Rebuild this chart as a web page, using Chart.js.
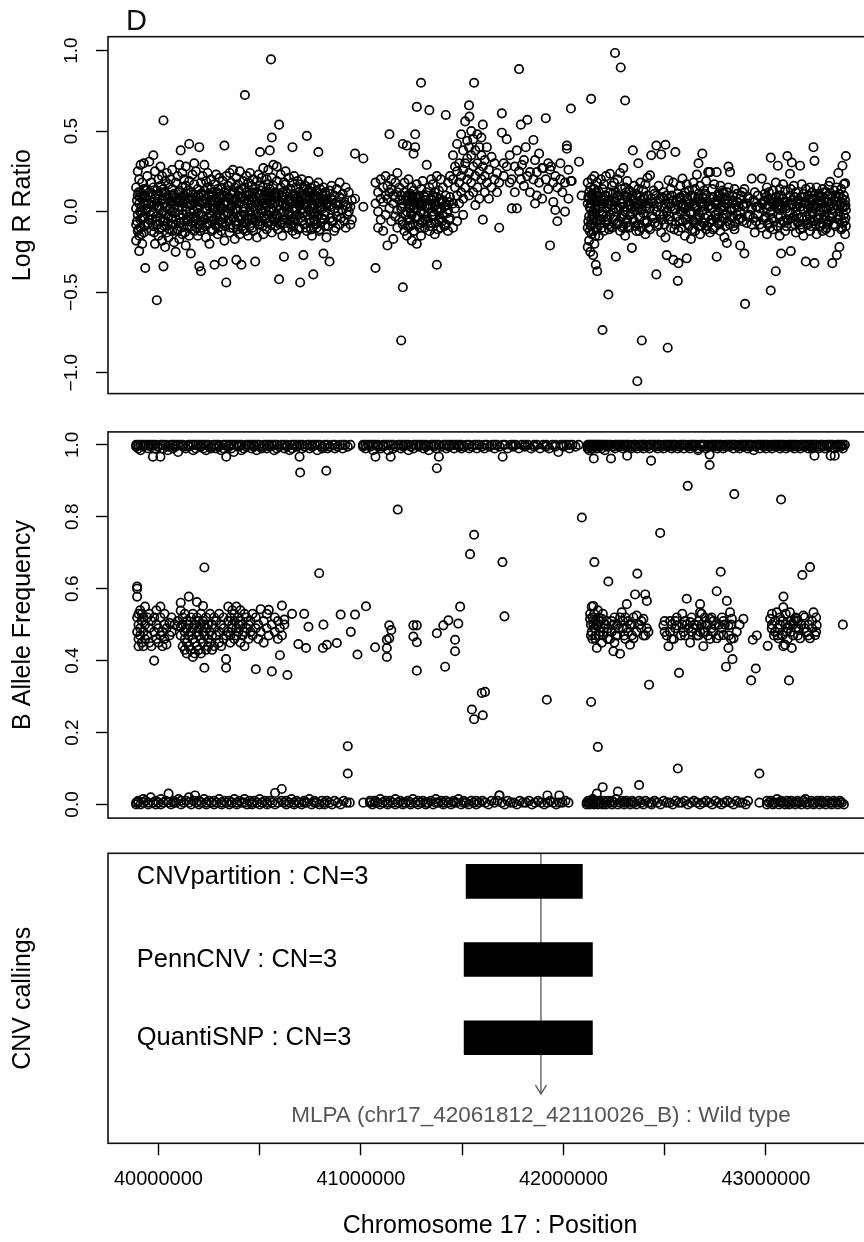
<!DOCTYPE html>
<html>
<head>
<meta charset="utf-8">
<script src="https://cdn.jsdelivr.net/npm/chart.js@4.4.1/dist/chart.umd.min.js"></script>
<style>
  html, body { margin: 0; padding: 0; background: #fff; overflow: hidden; }
  #page { position: relative; width: 864px; height: 1242px; overflow: hidden; background: #fff; }
  canvas { position: absolute; left: 0; }
</style>
</head>
<body>
<div id="page">
  <canvas id="lrrChart" width="880" height="410" style="top:0;width:880px;height:410px"></canvas>
  <canvas id="bafChart" width="880" height="430" style="top:410px;width:880px;height:430px"></canvas>
  <canvas id="cnvChart" width="880" height="402" style="top:840px;width:880px;height:402px"></canvas>
</div>
<script>
const FONT = "'Liberation Sans', Arial, Helvetica, sans-serif";

// shared position axis (chromosome 17, bp)
const posMin = 39751000;
const posMax = 43524000;
const posTicks = [40000000, 40500000, 41000000, 41500000, 42000000, 42500000, 43000000, 43500000];
const posLabelled = [40000000, 41000000, 42000000, 43000000];
const lrrTicks = [-1, -0.5, 0, 0.5, 1];
const bafTicks = [0, 0.2, 0.4, 0.6, 0.8, 1];

// Log R Ratio: [position (Mb), values...]
const lrrLeft = [
  [39.890, .02, -.08, .15, -.18], [39.898, .10, -.02, .25, -.12], [39.905, .05, -.15, .20, -.245],
  [39.912, -.05, .12, .29, -.10], [39.920, .08, -.20, .00, .18], [39.928, -.03, .14, .30, -.13],
  [39.935, .04, -.35, .10], [39.945, -.08, .22, .02], [39.955, .12, -.05, .31], [39.965, -.12, .06, .18],
  [39.975, .35, .00, -.09, .15], [39.983, -.20, .08, .25], [39.992, -.55, .03, .13, -.06],
  [40.000, .10, -.15, .20, .02], [40.010, -.04, .16, .28], [40.018, .07, -.10, .22, -.18],
  [40.025, -.34, .00, .14, .566], [40.033, .12, -.06, .19, -.22], [40.042, .03, .24, -.13],
  [40.050, .09, -.03, .17, -.16], [40.060, -.08, .20, .05], [40.068, .14, -.12, .26, .00],
  [40.077, .02, -.19, .11], [40.085, .18, -.05, .08, -.25], [40.095, .06, .22, -.11],
  [40.103, -.02, .13, .29, -.17], [40.110, .38, .07, -.07], [40.118, .15, -.14, .03, .24],
  [40.127, -.06, .10, .20], [40.135, .01, -.21, .16, .28], [40.143, .11, -.09, .05],
  [40.152, .42, .19, -.03, -.15], [40.160, .04, .12, -.26], [40.168, .23, -.07, .08],
  [40.177, .00, .17, -.12, .30], [40.185, .09, -.04, .25], [40.194, -.15, .14, .02],
  [40.202, .40, .06, -.08, -.34], [40.210, .18, -.02, .11, -.37], [40.218, .05, .22, -.10],
  [40.227, -.05, .13, .29], [40.235, .08, -.16, .19, .01], [40.243, .15, -.08, .24],
  [40.252, .03, .10, -.20], [40.260, -.03, .20, .07, .14], [40.268, .12, -.11, .02],
  [40.277, .06, .17, -.33, -.05], [40.285, -.09, .09, .23], [40.293, .14, .01, -.14],
  [40.302, .04, .21, -.06, .11], [40.310, -.12, .08, .15], [40.318, .02, .19, -.31, -.04],
  [40.326, .41, .10, -.18, .06], [40.335, .13, -.07, .22, -.44], [40.343, -.01, .16, .05],
  [40.352, .08, -.13, .24], [40.360, .18, .03, -.05], [40.368, -.10, .12, .00, .26],
  [40.377, .07, -.17, .15], [40.385, .02, .21, -.08, -.30], [40.393, .10, -.03, .17],
  [40.402, -.14, .06, .25], [40.410, .14, -.05, .09, -.33], [40.418, .00, .19, -.11],
  [40.427, .724, .08, -.02, .15], [40.435, -.07, .12, .22], [40.443, .05, -.15, .18],
  [40.452, .11, .00, -.09, .24], [40.460, -.04, .16, .07], [40.468, .09, -.12, .20, .03],
  [40.478, .01, .14, -.31, -.06], [40.487, .19, .06, -.16], [40.495, .04, .23, -.03],
  [40.502, .37, .11, -.08, .16], [40.510, .07, -.01, .21], [40.518, .15, -.14, .09, .27],
  [40.527, -.05, .12, .02], [40.535, .20, .05, -.11], [40.543, .08, .17, -.02, .26],
  [40.550, .38, .14, -.06], [40.556, .945, .10, .02], [40.560, .46, .21, -.13, .07],
  [40.568, .00, .16, .29], [40.577, .12, -.09, .05], [40.585, -.03, .19, .09, .28],
  [40.596, .54, -.42, .11, .01], [40.604, .15, -.07, .23], [40.612, .05, .12, -.15],
  [40.620, -.28, .09, .18, .00], [40.628, .17, -.04, .25], [40.637, .03, .11, -.10],
  [40.645, .21, .06, -.02], [40.653, -.08, .14, .08], [40.662, .40, .02, .18, -.12],
  [40.670, .10, -.05, .22], [40.678, .05, .15, -.14, .01], [40.687, -.02, .09, .19],
  [40.695, .12, -.10, .04], [40.700, -.44, .17, .07], [40.708, .02, .11, -.06, .20],
  [40.716, -.27, .14, .05], [40.725, .08, -.03, .16], [40.733, .47, .03, -.12, .10],
  [40.742, .13, .01, .19], [40.750, -.07, .09, .15], [40.758, .04, -.15, .12],
  [40.765, -.39, .10, .02], [40.773, .16, -.05, .07], [40.782, .01, .13, -.10],
  [40.790, .37, .08, -.02, .18], [40.798, -.11, .06, .14], [40.806, .11, -.04, .03],
  [40.815, -.26, .07, .15], [40.823, .00, .12, -.09], [40.830, .05, -.16, .10],
  [40.845, -.31, .04, .13], [40.855, .08, -.06, .16], [40.868, .02, .10, -.12],
  [40.880, .14, -.03, .06], [40.895, -.08, .09, .18], [40.910, .11, .01],
  [40.925, .04, -.10, .15], [40.940, .12, .00], [40.955, .07, -.05], [40.971, .36, .08],
  [41.012, .33, .03]
];
const lrrLeftCore = [
  [39.894, -.06, .07], [39.902, .12, -.11], [39.909, .00, .09], [39.916, -.14, .03], [39.924, .10, -.04],
  [39.931, .06, -.09], [39.940, .01, .13], [39.950, -.07, .05], [39.960, .09, -.02], [39.970, -.05, .11],
  [39.979, .04, -.13], [39.988, .10, -.03], [39.996, -.08, .06], [40.005, .03, -.11], [40.014, .12, -.01],
  [40.022, -.06, .08], [40.029, .05, -.09], [40.038, -.02, .11], [40.046, .08, -.07], [40.055, -.11, .02],
  [40.064, .06, -.04], [40.072, -.08, .10], [40.081, .04, -.01], [40.090, -.12, .07], [40.099, .01, .12],
  [40.107, -.04, .06], [40.114, .09, -.10], [40.122, -.02, .05], [40.131, .07, -.13], [40.139, -.05, .03],
  [40.147, .13, -.06], [40.156, .00, .08], [40.164, -.09, .05], [40.172, .11, -.03], [40.181, -.06, .06],
  [40.189, .03, -.10], [40.198, .10, -.01], [40.206, -.12, .04], [40.214, .07, -.06], [40.222, -.03, .10],
  [40.231, .05, -.09], [40.239, -.07, .02], [40.247, .11, -.04], [40.256, -.01, .07], [40.264, .09, -.12],
  [40.272, -.05, .04], [40.281, .02, -.08], [40.289, .12, -.02], [40.297, -.10, .06], [40.306, .03, -.03],
  [40.314, .10, -.07], [40.322, -.02, .05], [40.330, -.09, .12], [40.339, .06, -.01], [40.347, -.06, .09],
  [40.356, .02, -.10], [40.364, .11, .04], [40.372, -.04, .07], [40.381, .08, -.06], [40.389, -.11, .01],
  [40.397, .05, .13], [40.406, -.03, .08], [40.414, .09, -.09], [40.422, -.07, .03], [40.431, .02, -.12],
  [40.439, .10, -.04], [40.447, -.05, .07], [40.456, .04, -.02], [40.464, -.10, .12], [40.473, .07, -.05],
  [40.482, -.02, .09], [40.491, .11, -.08], [40.499, -.06, .03], [40.506, .01, .13], [40.514, -.09, .05],
  [40.522, .08, -.03], [40.531, -.04, .10], [40.539, .12, -.07], [40.547, .00, .06], [40.555, -.08, .11],
  [40.564, .05, -.04], [40.572, -.06, .09], [40.581, .10, -.02], [40.590, -.11, .04], [40.600, .06, -.08],
  [40.608, -.01, .10], [40.616, .09, -.05], [40.624, -.07, .03], [40.632, .04, .12], [40.641, -.10, .00],
  [40.649, .07, -.06], [40.657, -.03, .05], [40.666, .11, -.09], [40.674, -.05, .08], [40.683, .02, -.03],
  [40.691, .08, -.11], [40.704, -.04, .06], [40.712, .10, -.01], [40.720, -.08, .04], [40.729, .05, -.10],
  [40.737, -.02, .12], [40.746, .07, -.05], [40.754, -.11, .02], [40.762, .04, .09], [40.769, -.06, -.01],
  [40.778, .09, -.08], [40.786, -.03, .05], [40.794, .06, -.12], [40.802, -.07, .03], [40.811, .02, .10],
  [40.819, -.05, -.02], [40.827, .08, .04], [40.838, -.09, .06], [40.850, .03, -.04], [40.862, -.06, .07],
  [40.875, .05, -.10], [40.888, .00, .04], [40.902, -.04, .08], [40.918, .06, -.06], [40.933, -.02, .03],
  [40.948, .03, -.08]
];
const lrrMid = [
  [41.072, -.35, .05, .18], [41.085, .00, .12, -.10], [41.098, .20, -.05, .08], [41.110, .06, .15, -.12],
  [41.122, -.02, .22, .10], [41.131, -.21, .08, .16], [41.141, .48, .02, .12], [41.150, .14, -.06, .20],
  [41.160, -.17, .05, .10], [41.170, .09, .18, -.03], [41.180, .01, .12, -.10, .24], [41.190, .15, -.05, .07],
  [41.199, -.80, .10, .02], [41.207, -.47, .42, .05, -.08], [41.215, .12, -.12, .18],
  [41.227, .41, .00, .09, -.15], [41.235, .07, .20, -.05], [41.243, -.09, .11, .02],
  [41.251, .15, -.02, .08, -.18], [41.260, .36, .04, -.12, .13], [41.268, .48, .40, .09, -.04],
  [41.276, .65, -.20, .02, .17], [41.285, .10, -.08, .05], [41.297, .80, .14, -.15, .00],
  [41.305, .06, .19, -.06], [41.315, -.10, .09, .03], [41.325, .29, .12, -.03],
  [41.338, .63, .02, .15, -.12], [41.347, .08, -.07, .20], [41.355, .17, .00, .10],
  [41.365, .04, -.14, .12], [41.375, -.33, .09, .22, .01], [41.385, .13, -.05, .06],
  [41.395, .20, .02, -.10], [41.405, .07, .15, -.02], [41.419, .60, .10, -.08, .04],
  [41.430, .18, .01, -.12], [41.440, .09, .22, -.04],
  [41.205, .03, -.06], [41.220, -.02, .07], [41.231, .10, -.09], [41.239, -.05, .04], [41.247, .06, -.01],
  [41.256, -.08, .09], [41.264, .02, -.12], [41.272, -.04, .06], [41.281, .08, -.03], [41.290, -.10, .04],
  [41.300, .05, -.07], [41.310, -.01, .10], [41.320, .07, -.05], [41.330, -.06, .02], [41.342, .04, -.09],
  [41.351, -.03, .07], [41.360, .09, -.02], [41.370, -.07, .04], [41.380, .02, -.11], [41.390, -.04, .08],
  [41.400, .06, -.06], [41.412, -.09, .03], [41.425, .04, -.01], [41.435, -.05, .06]
];
const lrrGain = [
  [41.455, .05, .20, -.10, .35], [41.465, .15, .28, .02], [41.475, .42, .10, -.06, .25],
  [41.485, .30, .18, .05], [41.495, .48, .12, .22], [41.505, .38, .26, .08, -.02],
  [41.515, .56, .30, .15], [41.525, .44, .20, .33], [41.534, .66, .40, .24, .10], [41.536, .59],
  [41.545, .35, .18, .50], [41.555, .45, .28, .12], [41.559, .80], [41.565, .38, .22, .04],
  [41.575, .30, .48, .15], [41.585, .25, .40, .08], [41.595, .35, .20, .46], [41.602, .54, -.05, .28],
  [41.612, .32, .12, .22], [41.622, .40, .18], [41.632, .26, .08], [41.645, .34, .15],
  [41.660, .20, .30], [41.672, .12, .24], [41.683, -.10, .18], [41.696, .61, .49],
  [41.705, .22, .30], [41.720, .45, .28], [41.735, .18, .35], [41.745, .02, .20],
  [41.760, .28, .12], [41.770, .02, .38], [41.781, .885, .25], [41.790, .54, .20], [41.795, .29],
  [41.805, .16, .32], [41.814, .40], [41.822, .57, .22], [41.835, .245, .12], [41.852, .445, .20],
  [41.860, .05, .32], [41.869, .10, .245], [41.880, .18, .36], [41.895, .27, .08], [41.901, .27],
  [41.913, .58, .20], [41.925, .14, .30], [41.934, -.21, .26], [41.939, .28], [41.950, .18, .06],
  [41.960, .01, .22], [41.970, -.06, .15], [41.985, .20, .30], [41.995, .12], [42.008, .00, .18],
  [42.017, .41, .39], [42.025, .26, .08], [42.037, .64, .19], [42.041, .19], [42.077, .31], [42.090, .10]
];
const lrrRight = [
  [42.120, .05, -.10, .18, -.22], [42.127, -.03, .12, -.18, .08], [42.133, .15, -.25, .02, -.08],
  [42.137, .70], [42.140, -.05, .20, -.14, .10], [42.147, .08, -.27, .00, -.12],
  [42.153, -.02, .14, -.20, .22], [42.160, .10, -.06, -.33, .04], [42.167, -.10, .06, .18, -.37],
  [42.175, .02, -.15, .12], [42.185, .09, -.05, .20], [42.193, -.735, .00, .14], [42.200, .07, -.12, .17],
  [42.210, -.03, .10, .22], [42.222, -.515, .05, -.08], [42.230, .235, .12, -.02], [42.240, .04, -.10, .16],
  [42.250, .08, .18, -.05], [42.255, .985], [42.259, -.28, .02, .12], [42.268, .10, -.07, .20],
  [42.280, .24, .03, -.12], [42.283, .895], [42.288, .14, -.03], [42.296, .27, .06, -.09],
  [42.305, .69, .00, .15, -.15], [42.315, .09, -.05, .19], [42.325, -.10, .04, .13],
  [42.338, -.225, .10, .02], [42.343, .38, .07], [42.350, -.06, .16, .01], [42.360, .11, -.12, .05],
  [42.365, -1.053], [42.370, .30, .02, .14, -.08], [42.380, -.03, .09, .18], [42.387, -.80, .05, -.10],
  [42.395, .13, -.01, .08], [42.405, .03, .17, -.14], [42.415, .10, -.06, .21], [42.428, .225, .02, -.11],
  [42.434, .35, .08], [42.445, -.04, .13, .05], [42.459, .41, -.39, .00, .10], [42.470, .16, -.08, .06],
  [42.483, .355, .03, -.13], [42.495, .12, -.02, .08], [42.504, .415, .05, -.16], [42.510, -.27, .10, .00],
  [42.515, -.845], [42.519, .195, -.05, .08], [42.530, .14, -.10, .03], [42.543, -.30, .07, .18],
  [42.553, .37, .01, -.08], [42.565, -.43, .11, .04], [42.568, -.32, -.12], [42.578, .09, .00, .16],
  [42.588, .205, -.06, .05], [42.600, .12, -.15, .02], [42.609, -.29, .08, .17], [42.620, .03, -.09, .13],
  [42.630, .10, .00, -.17], [42.642, .18, .05, -.06], [42.650, -.12, .09, .14], [42.659, .23, .02, -.04],
  [42.667, .30, .11, -.09], [42.675, .06, -.14, .16], [42.686, .36, .01, .09], [42.695, -.07, .13, .04],
  [42.705, .10, -.11, .19], [42.715, .245, .03, -.03], [42.724, .245, .08, -.13], [42.735, .14, -.05, .02],
  [42.745, .06, .17, -.10], [42.757, .245, -.28, .04], [42.765, .11, -.07, .00], [42.775, .16, .02, -.12],
  [42.785, -.04, .09, .13], [42.795, .07, -.16, .03], [42.807, -.195, .12, -.02], [42.815, .28, .05, .15],
  [42.823, .245, -.08, .01], [42.835, .10, -.04, .07], [42.845, .02, .14, -.11], [42.858, .06, -.02, .11],
  [42.873, -.21, .08, .00], [42.885, .12, -.06, .04], [42.894, -.26, .03, .14], [42.897, -.573],
  [42.910, .09, -.03], [42.930, .205, .02, -.08], [42.945, .06, .12, -.13], [42.960, -.02, .10, .03],
  [42.980, .205, .05, -.10], [42.995, .11, -.04, .07], [43.005, .02, .15, -.14], [43.015, .08, -.07, .12],
  [43.024, .335, -.49, .00], [43.035, .13, -.11, .05], [43.049, -.37, .09, .18], [43.059, .285, -.02, .06],
  [43.068, .14, -.15, .01], [43.075, -.26, .10, .04], [43.085, -.06, .17, .08], [43.095, .03, -.12, .13],
  [43.106, .345, .06, -.05], [43.119, .235, -.01, .10], [43.123, -.245, .14], [43.128, .305, .04, -.09],
  [43.138, .09, -.03, .16], [43.148, .00, .12, -.13], [43.158, .07, -.07, .05], [43.169, .285, .03, -.11],
  [43.177, .17, -.04, .09], [43.185, .01, .11, -.15], [43.197, -.31, .06, .14], [43.208, .10, -.08, .02],
  [43.218, -.02, .15, -.12], [43.228, .08, .00, .12], [43.235, .40, -.06, .04], [43.240, .315, -.32, .10],
  [43.250, .03, -.14, .15], [43.260, .11, -.05, .07], [43.270, -.09, .09, .01], [43.280, .05, .14, -.12],
  [43.290, .12, -.03, .08], [43.300, .12, -.10, .02], [43.310, .06, .16, -.06], [43.317, .185, -.13, .03],
  [43.328, -.32, .10, -.01], [43.338, .07, -.08, .13], [43.350, -.27, .04, .15], [43.358, .24, -.05, .09],
  [43.363, -.22, .11, .00], [43.372, .06, -.11, .14], [43.378, .285, .03, -.07], [43.385, .10, -.02, .17],
  [43.391, -.14, .175, .07], [43.395, .345, .01, -.09]
];
const lrrRightCore = [
  [42.123, -.06, .09], [42.130, .03, -.12], [42.137, -.09, .05], [42.143, .11, -.02], [42.150, -.04, .07],
  [42.157, .02, -.15], [42.163, -.11, .12], [42.170, .06, -.05], [42.180, -.08, .03], [42.190, .04, -.10],
  [42.197, -.02, .08], [42.205, .10, -.06], [42.215, -.05, .02], [42.225, .07, -.11], [42.235, -.09, .04],
  [42.245, .01, .11], [42.255, -.03, .06], [42.264, .09, -.08], [42.274, -.06, .01], [42.284, .05, -.04],
  [42.292, -.10, .08], [42.300, .03, -.02], [42.310, -.07, .12], [42.320, .06, -.09], [42.330, -.02, .04],
  [42.345, .08, -.05], [42.355, -.09, .03], [42.365, .04, .10], [42.375, -.04, -.12], [42.385, .07, .01],
  [42.400, -.06, .09], [42.410, .02, -.07], [42.420, -.10, .05], [42.438, .06, -.03], [42.450, -.07, .11],
  [42.464, .03, -.09], [42.476, -.02, .08], [42.489, .09, -.05], [42.500, -.08, .02], [42.525, .05, -.03],
  [42.536, -.06, .10], [42.548, .02, -.11], [42.560, -.03, .07], [42.573, .08, -.06], [42.583, -.10, .03],
  [42.594, .04, .10], [42.604, -.05, -.02], [42.614, .07, -.08], [42.625, -.01, .05], [42.636, .09, -.11],
  [42.646, -.07, .03], [42.655, .04, -.05], [42.663, -.03, .08], [42.671, .08, -.02], [42.681, -.09, .05],
  [42.690, .03, -.07], [42.700, -.04, .11], [42.710, .06, -.09], [42.720, -.07, .04], [42.730, .02, -.05],
  [42.740, -.11, .09], [42.750, .05, -.02], [42.761, -.04, .07], [42.770, .10, -.08], [42.780, -.06, .03],
  [42.790, .01, .12], [42.800, -.09, .05], [42.811, .07, -.06], [42.828, -.03, .02], [42.840, .06, -.09],
  [42.851, -.07, .04], [42.865, .03, -.05], [42.878, -.04, .10], [42.905, .05, -.07], [42.920, -.02, .08],
  [42.938, .07, -.04], [42.952, -.06, .03], [42.970, .02, -.08], [42.988, -.05, .06], [43.000, .09, -.03],
  [43.010, -.08, .04], [43.020, .03, -.10], [43.030, -.04, .08], [43.042, .06, -.06], [43.055, -.09, .02],
  [43.064, .04, .10], [43.072, -.03, -.07], [43.080, .08, .03], [43.090, -.06, .06], [43.100, .02, -.09],
  [43.112, -.05, .04], [43.133, .07, -.04], [43.143, -.08, .09], [43.153, .03, -.02], [43.163, -.04, .07],
  [43.173, .06, -.08], [43.181, -.10, .02], [43.191, .05, .09], [43.202, -.03, -.05], [43.213, .08, .04],
  [43.223, -.06, -.09], [43.232, .02, .07], [43.245, -.08, .03], [43.255, .05, -.04], [43.265, -.02, .10],
  [43.275, .09, -.07], [43.285, -.05, .01], [43.295, .03, -.11], [43.305, -.07, .06], [43.314, .10, -.03],
  [43.322, -.04, .05], [43.333, .02, -.08], [43.344, -.09, .09], [43.354, .06, -.02], [43.367, -.03, .04],
  [43.376, .08, -.10], [43.388, -.06, .03], [43.393, .04, -.04]
];

// B Allele Frequency: [position (Mb), values...]
const bafHomB = [
  [39.890, 1, .995], [39.900, .99, 1], [39.912, 1, .985], [39.925, .995, 1], [39.937, 1], [39.950, .99, 1],
  [39.962, 1, .995], [39.973, .967, 1], [39.985, 1, .99], [39.998, .995], [40.010, 1, .967], [40.022, .99, 1],
  [40.035, 1], [40.047, .995, .985], [40.060, 1], [40.072, .99, 1], [40.085, 1, .995], [40.097, .98, 1],
  [40.110, 1], [40.122, .995, 1], [40.135, .99], [40.148, 1, .995], [40.160, 1], [40.172, .985, 1],
  [40.185, .99, 1], [40.197, 1], [40.210, .995, 1], [40.222, 1, .99], [40.235, .985, 1], [40.247, 1],
  [40.260, .995, .99], [40.272, 1], [40.285, .99, 1], [40.298, 1, .995], [40.310, .985], [40.322, 1, .99],
  [40.335, .967, 1], [40.348, .995, 1], [40.360, 1, .99], [40.372, .98, 1], [40.385, 1], [40.397, .995, 1],
  [40.410, 1, .985], [40.422, .99], [40.435, 1, .995], [40.447, 1], [40.460, .99, 1], [40.472, 1, .995],
  [40.485, .985, 1], [40.497, 1], [40.510, .995, .99], [40.522, 1], [40.535, .99, 1], [40.548, 1, .995],
  [40.560, 1], [40.572, .985, 1], [40.585, 1, .99], [40.597, .995], [40.610, 1], [40.622, .99, 1],
  [40.635, 1, .995], [40.648, .985], [40.660, 1, .99], [40.672, 1], [40.685, .995, 1], [40.697, .967, 1],
  [40.700, .923], [40.710, 1, .99], [40.722, .995], [40.735, 1], [40.747, .99, 1], [40.760, 1, .995],
  [40.772, 1], [40.785, .985, 1], [40.797, 1], [40.810, .99, .995], [40.822, 1], [40.829, .928],
  [40.835, 1, .99], [40.847, .995], [40.860, 1], [40.872, 1, .99], [40.885, .995], [40.897, 1],
  [40.910, .99, 1], [40.922, 1], [40.935, .995], [40.948, 1],
  [41.010, 1, .995], [41.022, .99, 1], [41.035, 1], [41.047, .995, 1], [41.060, 1, .985], [41.072, .967, 1],
  [41.085, 1, .995], [41.097, .99], [41.110, 1, .995], [41.122, 1], [41.135, .985, 1], [41.147, .967, 1],
  [41.160, 1, .99], [41.172, .995], [41.185, 1], [41.197, .99, 1], [41.210, 1, .995], [41.222, 1],
  [41.235, .985, 1], [41.247, .995], [41.260, 1, .99], [41.272, 1], [41.285, .995, 1], [41.297, 1],
  [41.310, .99, 1], [41.322, 1, .995], [41.335, .985], [41.347, 1], [41.360, .995, 1], [41.372, 1, .99],
  [41.375, .935], [41.385, .967, 1], [41.397, .995], [41.410, 1], [41.422, .99, 1], [41.435, 1, .995],
  [41.447, 1], [41.460, .99, 1], [41.472, 1], [41.485, .995, 1], [41.497, 1, .99], [41.510, .995],
  [41.522, 1], [41.535, 1, .99], [41.547, .995], [41.560, 1], [41.572, .99, 1], [41.585, 1], [41.597, .995],
  [41.610, 1, .99], [41.622, 1], [41.635, .995], [41.648, 1], [41.660, .99, 1], [41.672, 1], [41.685, .995],
  [41.700, 1, .967], [41.712, 1], [41.725, .99], [41.740, 1], [41.752, .995, 1], [41.765, 1], [41.780, .99],
  [41.795, 1], [41.810, .995, 1], [41.825, 1], [41.840, .99], [41.855, 1, .995], [41.870, 1], [41.885, .99],
  [41.900, 1], [41.915, 1, .995], [41.930, .99], [41.945, 1], [41.960, .995, 1], [41.975, .98], [41.988, 1],
  [42.000, .995, 1], [42.015, 1], [42.030, .99, 1], [42.045, 1], [42.060, .995], [42.075, 1],
  [42.120, 1, .995, .99], [42.128, 1, .985], [42.135, .995, 1], [42.143, 1, .99], [42.150, .962, 1],
  [42.158, 1, .995], [42.165, .99, 1], [42.173, 1], [42.180, .995, 1], [42.188, 1, .99], [42.196, 1],
  [42.205, .985, 1], [42.215, 1, .995], [42.225, 1], [42.235, .962, 1], [42.245, .995], [42.255, 1, .99],
  [42.265, 1], [42.275, .995, 1], [42.285, 1], [42.295, .99, 1], [42.305, 1, .995], [42.315, .97, 1],
  [42.325, 1], [42.335, .995, .99], [42.345, 1], [42.355, 1, .995], [42.365, .99], [42.375, 1],
  [42.385, .995, 1], [42.395, 1, .99], [42.405, 1], [42.415, .995], [42.425, 1, .99], [42.433, .956, 1],
  [42.445, 1], [42.455, .995, 1], [42.465, 1, .99], [42.475, 1], [42.485, .995], [42.495, 1, .99],
  [42.505, 1], [42.515, .995, 1], [42.525, 1], [42.535, .99, 1], [42.545, 1, .995], [42.555, 1],
  [42.565, .99], [42.575, 1, .995], [42.585, 1], [42.595, .99, 1], [42.605, 1], [42.615, .995],
  [42.625, 1, .99], [42.635, 1], [42.645, .995, 1], [42.655, 1], [42.665, .99, .985], [42.675, 1],
  [42.685, .995, 1], [42.695, 1], [42.705, .99], [42.715, 1, .995], [42.722, .944, .973], [42.730, 1],
  [42.740, .995, 1], [42.750, 1], [42.760, .99, 1], [42.770, 1, .995], [42.780, 1], [42.790, .99],
  [42.800, 1, .995], [42.810, 1], [42.820, .995, 1], [42.830, 1], [42.840, .99, 1], [42.850, 1],
  [42.860, .995], [42.870, 1, .99], [42.880, 1], [42.890, .995, 1], [42.900, 1], [42.910, .99, 1],
  [42.920, 1, .995], [42.930, 1], [42.940, .985], [42.950, 1, .995], [42.960, 1], [42.970, .99, 1],
  [42.980, 1], [42.990, .995, 1], [43.000, 1, .99], [43.010, 1], [43.020, .995], [43.030, 1, .99],
  [43.040, 1], [43.050, .995, 1], [43.060, 1], [43.070, .99, 1], [43.080, 1, .995], [43.090, 1],
  [43.100, .99], [43.110, 1, .995], [43.120, 1], [43.130, .995, 1], [43.140, 1, .99], [43.150, 1],
  [43.160, .995], [43.170, 1, .99], [43.180, 1], [43.190, .995, 1], [43.200, 1], [43.210, .99, 1],
  [43.220, 1, .995], [43.230, 1, .99], [43.240, .97, 1], [43.250, 1], [43.260, .995, .99], [43.270, 1],
  [43.280, 1, .995], [43.290, .99], [43.300, 1], [43.310, .995, 1], [43.320, 1, .97], [43.330, 1],
  [43.340, .99, .97], [43.350, 1, .995], [43.360, 1], [43.370, .995, 1], [43.380, 1, .99], [43.390, 1]
];
const bafHomA = [
  [39.890, .005, 0], [39.900, .01, .005], [39.912, 0], [39.925, .005, .015], [39.937, .01], [39.950, 0, .005],
  [39.962, .02], [39.975, .005], [39.987, .01, 0], [40.000, .005], [40.012, .015, 0], [40.025, .005],
  [40.037, .01], [40.050, .03, .005], [40.062, 0], [40.075, .01, .005], [40.087, .005], [40.100, .015],
  [40.112, 0, .01], [40.125, .005], [40.137, .01], [40.150, .005, .02], [40.162, 0], [40.175, .01],
  [40.181, .025], [40.187, .005], [40.200, .01, 0], [40.212, .005], [40.225, .015], [40.237, 0, .005],
  [40.250, .01], [40.262, .005], [40.275, 0, .01], [40.287, .005], [40.300, .015], [40.312, .005, 0],
  [40.325, .01], [40.337, .005], [40.350, 0, .01], [40.362, .005], [40.375, .015], [40.387, 0, .005],
  [40.400, .01], [40.412, .005], [40.425, .005, .015], [40.437, 0], [40.450, .01], [40.462, .005, 0],
  [40.475, .01], [40.487, .005], [40.500, .015, 0], [40.512, .005], [40.525, .01], [40.537, 0, .005],
  [40.550, .01], [40.562, .005], [40.576, .032, 0], [40.590, .005], [40.609, .043, .01], [40.620, .005],
  [40.632, 0, .01], [40.645, .005], [40.657, .015], [40.670, 0, .005], [40.682, .01], [40.695, .005],
  [40.707, 0], [40.720, .01, .005], [40.732, .005], [40.745, .015], [40.757, 0], [40.770, .005, .01],
  [40.782, .005], [40.795, 0], [40.807, .01], [40.820, .005, 0], [40.832, .01], [40.845, .005],
  [40.857, 0], [40.870, .01], [40.885, .005], [40.900, 0], [40.915, .01], [40.930, .005], [40.945, .005],
  [41.012, .005], [41.045, .005, .01], [41.057, 0], [41.070, .01, .005], [41.082, .005], [41.095, 0, .015],
  [41.107, .005], [41.120, .01], [41.132, 0, .005], [41.145, .01], [41.157, .005], [41.170, .015, 0],
  [41.182, .005], [41.195, .01], [41.207, 0, .005], [41.220, .005], [41.232, .01], [41.245, .005, 0],
  [41.257, .015], [41.270, .005], [41.282, 0, .01], [41.295, .005], [41.307, .01], [41.320, .005, 0],
  [41.332, .005], [41.345, .01], [41.357, 0], [41.370, .005, .015], [41.382, .005], [41.395, .01],
  [41.407, 0, .005], [41.420, .01], [41.432, .005], [41.445, 0], [41.457, .01, .005], [41.470, .005],
  [41.482, .015], [41.495, 0], [41.507, .005, .01], [41.520, .005], [41.532, 0], [41.545, .01],
  [41.557, .005], [41.570, 0, .01], [41.585, .005], [41.600, .01], [41.615, .005], [41.630, 0],
  [41.645, .01], [41.660, .005], [41.675, .01], [41.684, .025], [41.695, .005], [41.710, 0], [41.725, .01],
  [41.740, .005], [41.755, .005], [41.770, 0], [41.785, .01], [41.800, .005], [41.815, .005], [41.830, .01],
  [41.845, 0], [41.860, .005], [41.875, .01], [41.890, .005], [41.905, 0], [41.921, .025, .005],
  [41.935, .01], [41.950, .005], [41.965, 0], [41.980, .025, .005], [41.995, .005], [42.010, .01], [42.025, .005],
  [42.115, .005, 0], [42.122, .01, .005], [42.130, 0, .005], [42.137, .01], [42.145, .005, .015], [42.152, 0],
  [42.160, .005, .01], [42.165, .03], [42.170, 0], [42.178, .01, .005], [42.185, .005], [42.194, .048, 0],
  [42.200, .01], [42.210, .005, 0], [42.220, .01], [42.230, .005], [42.240, 0, .01], [42.250, .005],
  [42.260, .015], [42.269, .036, 0], [42.280, .005], [42.290, .01], [42.300, 0, .005], [42.310, .01],
  [42.320, .005], [42.330, 0], [42.340, .01, .005], [42.350, .005], [42.360, 0], [42.374, .054, .01],
  [42.385, .005], [42.395, 0], [42.405, .01], [42.420, .005], [42.435, .005, 0], [42.450, .01],
  [42.465, .005], [42.480, 0], [42.495, .01], [42.510, .005], [42.525, .005], [42.540, 0], [42.555, .01],
  [42.570, .005], [42.585, .005], [42.600, .01], [42.615, 0], [42.630, .005], [42.645, .01], [42.660, .005],
  [42.675, 0], [42.690, .005], [42.705, .01], [42.720, .005], [42.735, 0], [42.750, .01], [42.765, .005],
  [42.780, 0], [42.795, .005], [42.810, .01], [42.825, .005], [42.840, 0], [42.855, .01], [42.870, .005],
  [42.885, .005], [42.900, 0], [42.912, .01], [42.968, .005],
  [43.005, .01, 0], [43.015, .005], [43.025, .01], [43.035, 0, .005], [43.045, .005], [43.055, .015],
  [43.065, 0], [43.075, .005, .01], [43.085, .005], [43.095, 0], [43.105, .01], [43.115, .005, 0],
  [43.125, .01], [43.135, .005], [43.145, 0], [43.155, .01, .005], [43.165, .005], [43.175, 0],
  [43.185, .01], [43.195, .005, .015], [43.205, 0], [43.215, .005], [43.225, .01], [43.235, .005, 0],
  [43.245, .005], [43.255, .01], [43.265, 0], [43.275, .005, .01], [43.285, .005], [43.295, 0],
  [43.305, .01], [43.315, .005], [43.325, .005, 0], [43.335, .01], [43.345, .005], [43.355, 0],
  [43.365, .01, .005], [43.375, .005], [43.385, 0]
];
const bafHetLeft = [
  [39.895, .606, .60, .578, .52, .48], [39.902, .50, .46, .53, .44], [39.910, .49, .54, .47],
  [39.918, .51, .45, .53], [39.926, .48, .52, .44], [39.934, .50, .46, .55], [39.945, .47, .52],
  [39.955, .49, .45, .53], [39.965, .51, .44], [39.979, .40, .48, .52], [39.990, .46, .50, .54],
  [40.000, .49, .45], [40.010, .52, .47, .55], [40.020, .48, .44], [40.030, .50, .53, .46],
  [40.040, .445, .49], [40.055, .505, .47], [40.065, .48, .52], [40.080, .50], [40.095, .496, .51],
  [40.110, .494, .539, .561, .47], [40.120, .44, .50, .52], [40.130, .43, .48, .53, .46],
  [40.140, .45, .51, .42, .49], [40.150, .578, .47, .50, .44], [40.160, .52, .43, .48],
  [40.170, .49, .46, .53, .41], [40.180, .45, .50, .42], [40.190, .563, .48, .52, .44],
  [40.200, .47, .51, .43, .49], [40.210, .46, .50, .53, .42], [40.220, .552, .48, .45, .51],
  [40.227, .659, .38, .47, .50], [40.235, .43, .49, .52], [40.245, .46, .50, .44], [40.255, .48, .53, .45],
  [40.265, .50, .47, .43], [40.275, .44, .49, .52], [40.285, .47, .51], [40.300, .48, .45, .53],
  [40.310, .50, .44], [40.322, .46, .52, .49], [40.334, .38, .404, .47], [40.345, .51, .48, .55],
  [40.355, .47, .52, .45], [40.365, .50, .54, .49], [40.375, .46, .53, .51], [40.385, .49, .55, .47],
  [40.395, .52, .48, .50], [40.405, .45, .51, .54], [40.415, .50, .47], [40.425, .53, .48, .44],
  [40.435, .49, .52], [40.445, .46, .50], [40.455, .51, .48], [40.465, .47, .53], [40.481, .376, .52, .49],
  [40.493, .50, .46], [40.505, .543, .48], [40.520, .51, .45], [40.535, .49, .53], [40.545, .541, .47],
  [40.560, .37, .50], [40.575, .48, .52], [40.590, .51, .46], [40.600, .415, .49], [40.610, .553, .47],
  [40.622, .514, .50], [40.637, .36], [40.660, .53], [40.691, .446], [40.720, .53], [40.729, .435],
  [40.741, .494], [40.794, .643], [40.812, .435], [40.815, .50], [40.832, .444], [40.881, .449],
  [40.900, .528], [40.935, .162, .086], [40.950, .48], [40.971, .528], [40.983, .417], [41.025, .551],
  [41.070, .437], [41.128, .458, .435, .41], [41.140, .498, .462], [41.150, .485], [41.182, .82],
  [41.259, .498, .467], [41.276, .498, .451, .372], [41.375, .476], [41.407, .498], [41.416, .383],
  [41.432, .512], [41.465, .458, .426], [41.481, .503], [41.490, .55]
];
const bafGain = [
  [41.539, .696], [41.548, .264], [41.559, .75, .237], [41.597, .31], [41.602, .248], [41.613, .313],
  [41.684, .025], [41.699, .674], [41.709, .523], [41.918, .291], [42.091, .798], [42.137, .285], [42.170, .16]
];
const bafHetRight = [
  [42.132, .516, .53], [42.140, .48, .55], [42.148, .552, .50], [42.153, .674], [42.157, .462, .49],
  [42.165, .498, .435], [42.175, .47, .52], [42.190, .516, .45], [42.200, .49], [42.214, .48, .51],
  [42.222, .62], [42.230, .46], [42.247, .426, .50], [42.260, .47], [42.272, .489], [42.280, .419, .52],
  [42.288, .534], [42.300, .47], [42.313, .557, .49], [42.329, .444, .50], [42.346, .462, .52],
  [42.354, .584], [42.362, .525, .48], [42.365, .642], [42.375, .50], [42.395, .516, .47], [42.404, .584],
  [42.412, .566, .49], [42.420, .48], [42.423, .333], [42.478, .755], [42.494, .498], [42.510, .47],
  [42.519, .44], [42.527, .48, .51], [42.545, .46], [42.560, .498, .52], [42.565, .10], [42.571, .366],
  [42.580, .47], [42.593, .48], [42.609, .572, .50], [42.614, .886], [42.626, .507, .45], [42.640, .49],
  [42.659, .498, .47], [42.675, .557, .534, .48], [42.691, .48, .44], [42.705, .50], [42.724, .516, .46],
  [42.749, .498], [42.757, .462, .593], [42.777, .647], [42.790, .471, .51], [42.803, .383], [42.807, .566],
  [42.815, .498, .435], [42.823, .534], [42.832, .516], [42.835, .404], [42.840, .462], [42.844, .863],
  [42.856, .48], [42.870, .50], [42.889, .516], [42.927, .345], [42.935, .458], [42.950, .378],
  [42.955, .47], [42.968, .086], [43.009, .441], [43.021, .516], [43.029, .489], [43.040, .47],
  [43.054, .534], [43.062, .462], [43.075, .848], [43.086, .548, .44], [43.087, .578], [43.095, .444],
  [43.103, .48], [43.114, .345], [43.119, .534, .498], [43.128, .435], [43.140, .51], [43.153, .516],
  [43.161, .489], [43.169, .462], [43.180, .638], [43.185, .525], [43.202, .48], [43.218, .66, .462],
  [43.235, .534], [43.243, .471], [43.251, .498], [43.380, .50]
];
const bafHetRightCore = [
  [42.136, .50, .47], [42.144, .52, .46], [42.152, .49, .53], [42.160, .51, .47], [42.170, .50, .54],
  [42.182, .48, .51], [42.195, .53, .47], [42.207, .50], [42.220, .49, .46], [42.238, .51, .48],
  [42.252, .45, .52], [42.266, .50, .47], [42.294, .49, .51], [42.306, .46, .52], [42.320, .48, .51],
  [42.338, .50, .47], [42.385, .51, .49], [42.405, .47], [42.500, .51, .48], [42.535, .50, .46],
  [42.552, .49, .51], [42.587, .50, .53], [42.600, .47, .51], [42.618, .49], [42.633, .52, .48],
  [42.648, .50], [42.667, .51, .47], [42.683, .50, .53], [42.698, .48, .52], [42.713, .50, .47],
  [42.732, .49, .52], [42.741, .51, .48], [42.768, .50, .47], [42.783, .52, .49], [42.797, .50],
  [42.817, .47], [42.828, .50, .46], [43.030, .50, .53], [43.045, .51, .48], [43.058, .49, .47],
  [43.070, .52, .50], [43.082, .47, .51], [43.098, .50, .53], [43.108, .49, .46], [43.124, .51, .48],
  [43.135, .50, .47], [43.147, .49, .52], [43.158, .51, .47], [43.175, .50], [43.192, .49, .52],
  [43.210, .50, .47], [43.228, .51, .49], [43.248, .48, .52]
];

// CNV calls
const callers = ['CNVpartition : CN=3', 'PennCNV : CN=3', 'QuantiSNP : CN=3'];
const callStart = [41519500, 41509600, 41509600];
const callEnd = [42093800, 42143300, 42143300];
const callRow = [3, 2, 1];
const callLabelRow = [3.05, 2, 1];
const callLabelPos = 39893000;
const mlpaPos = 41889000;
const mlpaRow = 0;
const mlpaLabel = 'MLPA (chr17_42061812_42110026_B) : Wild type';
const arrowFrom = 3.358;
const arrowTo = 0.28;

Chart.defaults.font.family = FONT;
Chart.defaults.color = '#000';

function toPoints(rows) {
  return rows.flatMap(r => r.slice(1).map(v => ({ x: Math.round(r[0] * 1e6), y: v })));
}

function fmtTick(v) {
  return (v < 0 ? '\u2212' : '') + Math.abs(v).toFixed(1);
}

const boxPlugin = {
  id: 'box',
  afterDatasetsDraw(chart) {
    const a = chart.chartArea, ctx = chart.ctx;
    ctx.save();
    ctx.strokeStyle = '#111';
    ctx.lineWidth = 1.6;
    ctx.strokeRect(a.left, a.top, a.right - a.left, a.bottom - a.top);
    ctx.restore();
  }
};

const panelLetter = {
  id: 'panelLetter',
  afterDraw(chart) {
    const ctx = chart.ctx;
    ctx.save();
    ctx.font = '29px ' + FONT;
    ctx.fillStyle = '#111';
    ctx.textBaseline = 'alphabetic';
    ctx.fillText('D', 126, 30);
    ctx.restore();
  }
};

function pointSet(rows) {
  return {
    data: toPoints(rows),
    showLine: false,
    pointRadius: 4.2,
    pointHoverRadius: 4.2,
    pointBorderWidth: 1.7,
    borderColor: '#000',
    pointBorderColor: '#000',
    backgroundColor: 'rgba(0,0,0,0)',
    pointBackgroundColor: 'rgba(0,0,0,0)',
    clip: 0
  };
}

function panelOptions(yMin, yMax, yTicks, yTitle, tickPad, pad) {
  return {
    responsive: false,
    animation: false,
    events: [],
    layout: { padding: pad },
    plugins: { legend: { display: false }, tooltip: { enabled: false } },
    scales: {
      x: { type: 'linear', min: posMin, max: posMax, display: false },
      y: {
        type: 'linear',
        min: yMin,
        max: yMax,
        afterBuildTicks: s => { s.ticks = yTicks.map(v => ({ value: v })); },
        afterFit: s => { s.width = 108; },
        ticks: {
          minRotation: 90, maxRotation: 90, crossAlign: 'center', padding: tickPad,
          font: { size: 19 }, color: '#000',
          callback: v => fmtTick(v)
        },
        grid: { drawOnChartArea: false, drawTicks: true, tickLength: 12, tickColor: '#000', tickWidth: 1.4 },
        border: { display: false },
        title: { display: true, text: yTitle, color: '#000', font: { size: 25 }, padding: { top: 8, bottom: 0 } }
      }
    }
  };
}

new Chart(document.getElementById('lrrChart'), {
  type: 'scatter',
  data: { datasets: [pointSet(lrrLeft.concat(lrrLeftCore, lrrMid, lrrGain, lrrRight, lrrRightCore))] },
  options: panelOptions(-1.13, 1.086, lrrTicks, 'Log R Ratio', 5, { left: 0, right: 8, top: 36.7, bottom: 12 }),
  plugins: [boxPlugin, panelLetter]
});

new Chart(document.getElementById('bafChart'), {
  type: 'scatter',
  data: { datasets: [pointSet(bafHomB.concat(bafHomA, bafHetLeft, bafGain, bafHetRight, bafHetRightCore))] },
  options: panelOptions(-0.038, 1.036, bafTicks, 'B Allele Frequency', 10.5, { left: 0, right: 8, top: 17.7, bottom: 15 }),
  plugins: [boxPlugin]
});

const calloutPlugin = {
  id: 'callouts',
  afterDatasetsDraw(chart) {
    const { ctx, scales: { x, y } } = chart;
    ctx.save();
    ctx.font = '25.5px ' + FONT;
    ctx.fillStyle = '#000';
    ctx.textBaseline = 'middle';
    ctx.textAlign = 'left';
    callers.forEach((t, i) => {
      ctx.fillText(t, x.getPixelForValue(callLabelPos), y.getPixelForValue(callLabelRow[i]));
    });
    const ax = x.getPixelForValue(mlpaPos);
    const ay = y.getPixelForValue(arrowTo);
    ctx.strokeStyle = '#555';
    ctx.lineWidth = 1.3;
    ctx.beginPath();
    ctx.moveTo(ax - 5.5, ay - 9);
    ctx.lineTo(ax, ay);
    ctx.lineTo(ax + 5.5, ay - 9);
    ctx.stroke();
    ctx.font = '22.5px ' + FONT;
    ctx.fillStyle = '#555';
    ctx.textAlign = 'center';
    ctx.fillText(mlpaLabel, ax, y.getPixelForValue(mlpaRow));
    ctx.restore();
  }
};

new Chart(document.getElementById('cnvChart'), {
  type: 'bar',
  data: {
    datasets: [
      {
        type: 'bar',
        indexAxis: 'y',
        data: callRow.map((r, i) => ({ x: [callStart[i], callEnd[i]], y: r })),
        backgroundColor: '#000',
        borderWidth: 0,
        barThickness: 34
      },
      {
        type: 'line',
        data: [{ x: mlpaPos, y: arrowFrom }, { x: mlpaPos, y: arrowTo }],
        borderColor: '#555',
        borderWidth: 1.3,
        pointRadius: 0,
        clip: false
      }
    ]
  },
  options: {
    responsive: false,
    animation: false,
    events: [],
    layout: { padding: { left: 0, right: 8, top: 13.3, bottom: 0 } },
    plugins: { legend: { display: false }, tooltip: { enabled: false } },
    scales: {
      x: {
        type: 'linear',
        min: posMin,
        max: posMax,
        offset: false,
        afterBuildTicks: s => { s.ticks = posTicks.map(v => ({ value: v })); },
        afterFit: s => { s.height = 98.7; },
        ticks: {
          autoSkip: false, maxRotation: 0, padding: 12, font: { size: 20 }, color: '#000',
          callback: v => posLabelled.includes(v) ? String(v) : ''
        },
        grid: { drawOnChartArea: false, drawTicks: true, tickLength: 12, tickColor: '#000', tickWidth: 1.4, offset: false },
        border: { display: false },
        title: { display: true, text: 'Chromosome 17 : Position', color: '#000', font: { size: 25 }, padding: { top: 0, bottom: 1 } }
      },
      y: {
        type: 'linear',
        min: -0.349,
        max: 3.358,
        offset: false,
        afterFit: s => { s.width = 108; },
        ticks: { display: false },
        grid: { display: false, offset: false },
        border: { display: false },
        title: { display: true, text: 'CNV callings', color: '#000', font: { size: 25 }, padding: { top: 8, bottom: 0 } }
      }
    }
  },
  plugins: [boxPlugin, calloutPlugin]
});
</script>
</body>
</html>
